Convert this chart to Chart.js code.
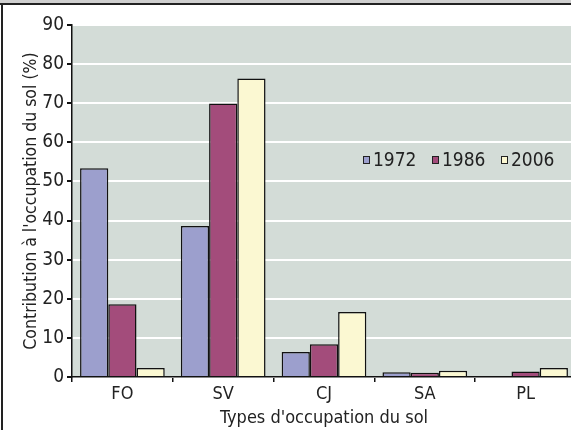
<!DOCTYPE html>
<html>
<head>
<meta charset="utf-8">
<script src="https://cdn.jsdelivr.net/npm/chart.js@4"></script>
<style>
  body { margin: 0; background: #fff; overflow: hidden; }
  #wrap { position: absolute; left: 0; top: 0; width: 600px; height: 430px; }
</style>
</head>
<body>
<div id="wrap"><canvas id="myChart"></canvas></div>
<script>
const categories = ['FO', 'SV', 'CJ', 'SA', 'PL'];
const years = ['1972', '1986', '2006'];
const values1972 = [53.4, 38.6, 6.4, 1.2, 0];
const values1986 = [18.6, 69.9, 8.4, 1.1, 1.4];
const values2006 = [2.3, 76.3, 16.6, 1.6, 2.3];
const colors = ['#9c9fcd', '#a34c7b', '#fbf8d2'];

const font = "'Liberation Sans Narrow', 'DejaVu Sans Condensed', sans-serif";

// grey plot background + outer frame
const background = {
  id: 'background',
  beforeDraw(chart) {
    const c = chart.ctx, a = chart.chartArea;
    c.save();
    c.fillStyle = '#d3dcd7';
    c.fillRect(a.left, a.top, a.right - a.left, a.bottom - a.top);
    c.fillStyle = '#cfcfcf';
    c.fillRect(0, 0, chart.width, 3);
    c.fillStyle = '#222';
    c.fillRect(0, 3, chart.width, 2);
    c.fillRect(1, 3, 2, chart.height);
    c.restore();
  }
};

// legend drawn inside the plot
const innerLegend = {
  id: 'innerLegend',
  afterDatasetsDraw(chart) {
    const c = chart.ctx;
    c.save();
    c.font = '19px ' + font;
    c.textBaseline = 'middle';
    let x = 363;
    const y = 160;
    chart.data.datasets.forEach(ds => {
      c.fillStyle = ds.backgroundColor;
      c.fillRect(x, y - 3, 6, 6);
      c.strokeStyle = '#222';
      c.lineWidth = 1;
      c.strokeRect(x + 0.5, y - 3.5, 6, 7);
      c.fillStyle = '#222';
      c.fillText(ds.label, x + 10, y + 1);
      x += 69;
    });
    c.restore();
  }
};

const ctx = document.getElementById('myChart');
new Chart(ctx, {
  type: 'bar',
  data: {
    labels: categories,
    datasets: [
      { label: years[0], data: values1972, backgroundColor: colors[0] },
      { label: years[1], data: values1986, backgroundColor: colors[1] },
      { label: years[2], data: values2006, backgroundColor: colors[2] }
    ]
  },
  options: {
    responsive: true,
    maintainAspectRatio: false,
    devicePixelRatio: 1,
    animation: false,
    layout: { padding: { top: 25, right: 24, left: 21, bottom: 0 } },
    datasets: {
      bar: {
        borderColor: '#111',
        borderWidth: 1.5,
        categoryPercentage: 0.84,
        barPercentage: 1
      }
    },
    plugins: {
      legend: { display: false },
      tooltip: { enabled: false }
    },
    scales: {
      x: {
        afterFit(scale) { scale.height = 53; },
        grid: { drawOnChartArea: false, tickLength: 5, tickColor: '#111', lineWidth: 1.5 },
        border: { color: '#111', width: 1.5 },
        ticks: { color: '#222', font: { family: font, size: 18 }, padding: 2 },
        title: { display: true, text: "Types d'occupation du sol", color: '#222', font: { family: font, size: 18 }, padding: { top: 0, bottom: 1 } }
      },
      y: {
        min: 0,
        max: 90,
        afterFit(scale) { scale.width = 51; },
        ticks: { stepSize: 10, color: '#222', font: { family: font, size: 19 }, padding: 3 },
        grid: { color: '#ffffff', lineWidth: 2, tickColor: '#111', tickLength: 5 },
        border: { color: '#111', width: 1.5 },
        title: { display: true, text: "Contribution à l'occupation du sol (%)", color: '#222', font: { family: font, size: 17.5 }, padding: { top: 0, bottom: 0 } }
      }
    }
  },
  plugins: [background, innerLegend]
});
</script>
</body>
</html>
